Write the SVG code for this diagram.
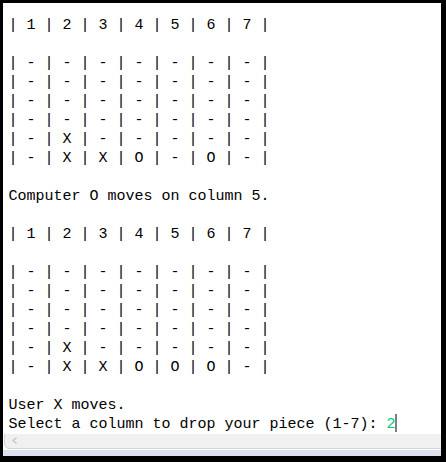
<svg xmlns="http://www.w3.org/2000/svg" width="446" height="462" viewBox="0 0 446 462">
<style>
.t{font-family:"Liberation Mono","DejaVu Sans Mono",monospace;font-size:15px;fill:#000;white-space:pre}
.in{fill:#00c87d}
</style>
<rect x="0" y="0" width="446" height="462" fill="#ffffff"/>
<g id="console">
<text class="t" x="8.5" y="29">| 1 | 2 | 3 | 4 | 5 | 6 | 7 |</text>
<text class="t" x="8.5" y="67">| - | - | - | - | - | - | - |</text>
<text class="t" x="8.5" y="86">| - | - | - | - | - | - | - |</text>
<text class="t" x="8.5" y="105">| - | - | - | - | - | - | - |</text>
<text class="t" x="8.5" y="124">| - | - | - | - | - | - | - |</text>
<text class="t" x="8.5" y="143">| - | X | - | - | - | - | - |</text>
<text class="t" x="8.5" y="162">| - | X | X | O | - | O | - |</text>
<text class="t" x="8.5" y="200">Computer O moves on column 5.</text>
<text class="t" x="8.5" y="238">| 1 | 2 | 3 | 4 | 5 | 6 | 7 |</text>
<text class="t" x="8.5" y="276">| - | - | - | - | - | - | - |</text>
<text class="t" x="8.5" y="295">| - | - | - | - | - | - | - |</text>
<text class="t" x="8.5" y="314">| - | - | - | - | - | - | - |</text>
<text class="t" x="8.5" y="333">| - | - | - | - | - | - | - |</text>
<text class="t" x="8.5" y="352">| - | X | - | - | - | - | - |</text>
<text class="t" x="8.5" y="371">| - | X | X | O | O | O | - |</text>
<text class="t" x="8.5" y="409">User X moves.</text>
<text class="t" x="8.5" y="428">Select a column to drop your piece (1-7): <tspan class="in">2</tspan></text>
<rect x="395.5" y="414" width="1" height="18" fill="#000"/>
</g>
<g id="scrollbar">
<path d="M4.5 434 H441 V448 H10 Q4.5 448 4.5 443 Z" fill="#f0f0f0"/>
<path d="M4.5 434 V443 Q4.5 448.5 10 448.5 H441" fill="none" stroke="#d4d4d4" stroke-width="1"/>
<polyline points="16.5,437.5 13,440.5 16.5,443.5" fill="none" stroke="#c4c4c4" stroke-width="1.2"/>
<rect x="3" y="450" width="438" height="6" fill="#dde1ef"/>
</g>
<g id="frame">
<rect x="0" y="0" width="446" height="3" fill="#000"/>
<rect x="0" y="0" width="3" height="462" fill="#000"/>
<rect x="441" y="0" width="5" height="462" fill="#000"/>
<rect x="0" y="456" width="446" height="6" fill="#000"/>
</g>
</svg>
